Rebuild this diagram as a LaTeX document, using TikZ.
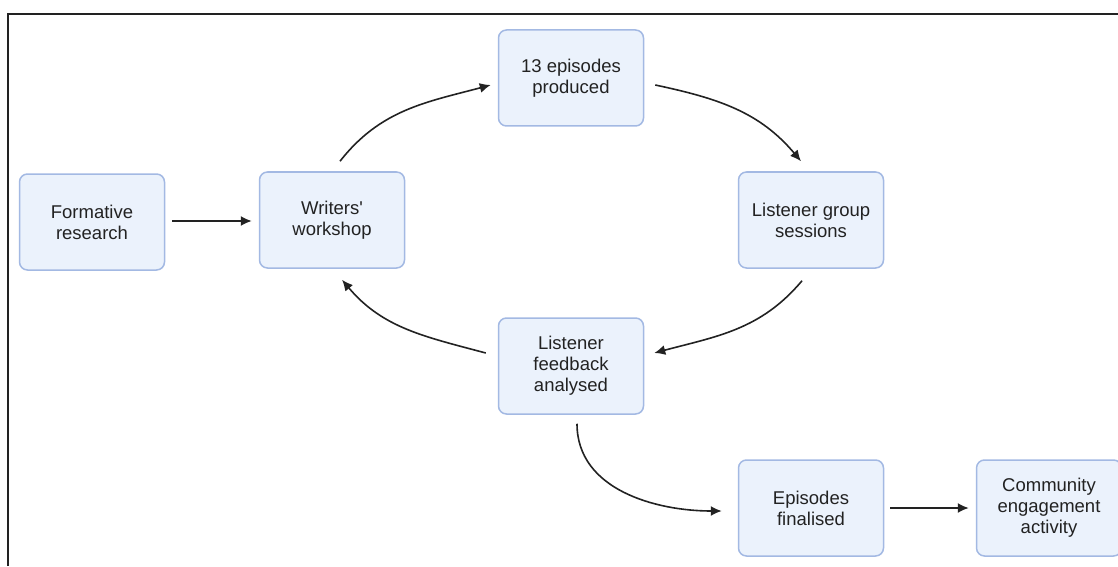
\documentclass[tikz,border=0pt]{standalone}
\usepackage{fontspec}
\setmainfont{Liberation Sans}
\usepackage{xcolor}
\usetikzlibrary{arrows.meta}

\definecolor{boxfill}{HTML}{EBF2FC}
\definecolor{boxline}{HTML}{A3B9E3}
\definecolor{inkline}{HTML}{222222}

\tikzset{
	stagebox/.style={draw=boxline, fill=boxfill, line width=1.5pt, rounded corners=8pt,
		minimum width=145pt, minimum height=96pt, align=center,
		font=\fontsize{18.5}{21}\selectfont, text=inkline},
	flow/.style={draw=inkline, line width=1.6pt, -{Latex[length=11pt,width=10pt]}}
}

\begin{document}
\begin{tikzpicture}[x=1pt,y=1pt]
	\useasboundingbox (0,0) rectangle (1118,566);
	\draw[inkline, line width=1.6pt] (8,0) -- (8,552) -- (1118,552);

	\node[stagebox] (form) at (92,344) {Formative\\research};
	\node[stagebox] (writ) at (332,346) {Writers\textquotesingle\\workshop};
	\node[stagebox] (prod) at (571,488) {13 episodes\\produced};
	\node[stagebox] (lgs) at (811,346) {Listener group\\sessions};
	\node[stagebox] (fdb) at (571,200) {Listener\\feedback\\analysed};
	\node[stagebox] (fin) at (811,58) {Episodes\\finalised};
	\node[stagebox] (comm) at (1049,58) {Community\\engagement\\activity};

	\draw[flow] ([xshift=7pt,yshift=1pt]form.east) -- ([xshift=-7pt,yshift=-1pt]writ.west);
	\draw[flow] ([xshift=8pt,yshift=10pt]writ.north) to[out=52,in=195] ([xshift=-7pt,yshift=-7pt]prod.west);
	\draw[flow] ([xshift=11pt,yshift=-7pt]prod.east) to[out=-12,in=130] ([xshift=-10pt,yshift=10pt]lgs.north);
	\draw[flow] ([xshift=-9pt,yshift=-12pt]lgs.south) to[out=-130,in=15] ([xshift=10pt,yshift=13pt]fdb.east);
	\draw[flow] ([xshift=-12pt,yshift=13pt]fdb.west) to[out=165,in=-50] ([xshift=10pt,yshift=-11pt]writ.south);
	\draw[flow] ([xshift=6pt,yshift=-9pt]fdb.south) to[out=-90,in=180] ([xshift=-16pt,yshift=-3pt]fin.west);
	\draw[flow] ([xshift=6pt]fin.east) -- ([xshift=-7pt]comm.west);
\end{tikzpicture}
\end{document}
